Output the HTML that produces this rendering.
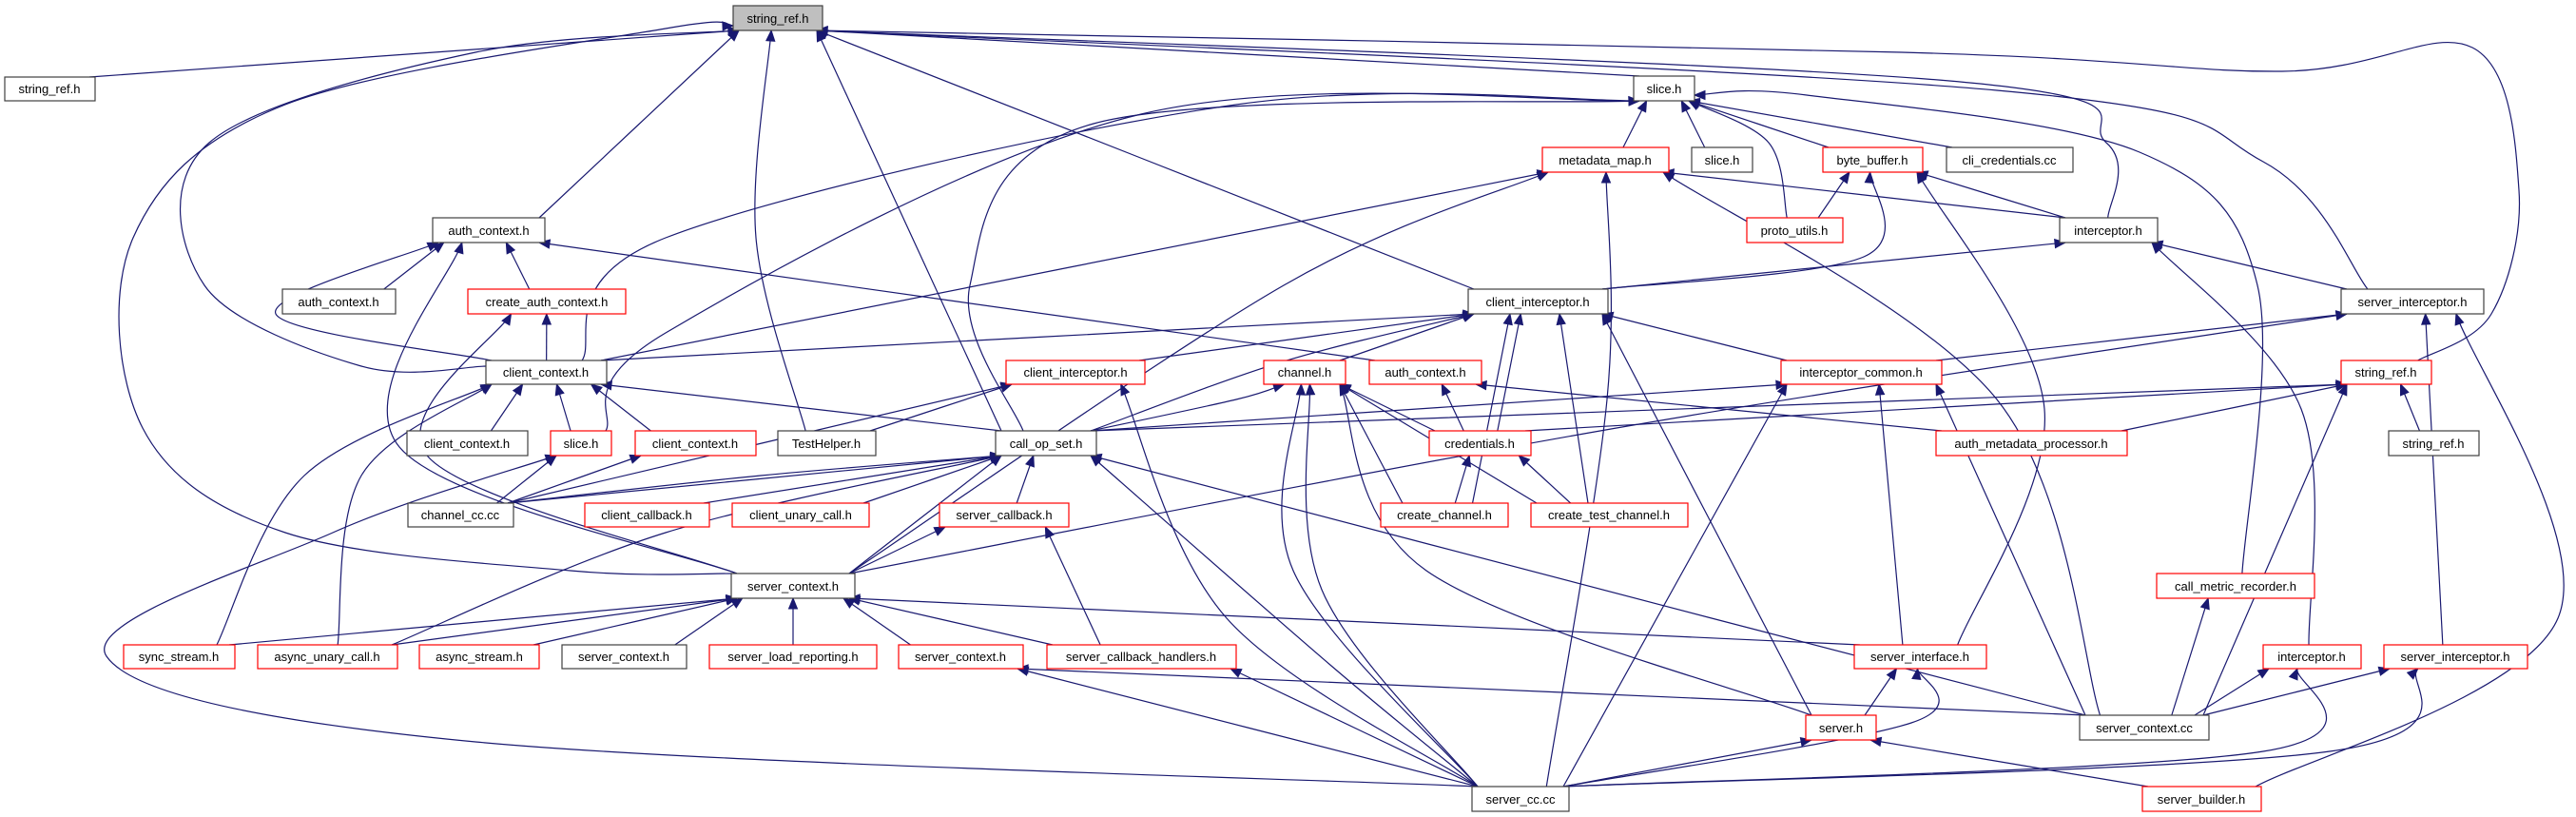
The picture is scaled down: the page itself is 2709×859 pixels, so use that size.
<!DOCTYPE html>
<html><head><meta charset="utf-8"><style>
html,body{margin:0;padding:0;background:#fff;}
svg{display:block;}
text{font-family:"Liberation Sans",sans-serif;font-size:13px;fill:#000;}
</style></head><body>
<svg id="g" width="2709" height="859" viewBox="0 0 2709 859" xmlns="http://www.w3.org/2000/svg">
<g id="edges" fill="none" stroke="#191970" stroke-width="1.2"></g>
<g id="arrows" fill="#191970" stroke="#191970" stroke-width="1"></g>
<g id="nodes">
<rect x="771" y="6" width="94" height="26" fill="#bfbfbf" stroke="#404040" stroke-width="1.2"/><text x="818" y="24" text-anchor="middle">string_ref.h</text>
<rect x="5" y="81" width="95" height="25" fill="#fff" stroke="#404040" stroke-width="1.2"/><text x="52" y="98" text-anchor="middle">string_ref.h</text>
<rect x="455" y="229" width="118" height="26" fill="#fff" stroke="#404040" stroke-width="1.2"/><text x="514" y="247" text-anchor="middle">auth_context.h</text>
<rect x="297" y="304" width="119" height="26" fill="#fff" stroke="#404040" stroke-width="1.2"/><text x="356" y="322" text-anchor="middle">auth_context.h</text>
<rect x="492" y="304" width="166" height="26" fill="#fff" stroke="#ff0000" stroke-width="1.2"/><text x="575" y="322" text-anchor="middle">create_auth_context.h</text>
<rect x="511" y="379" width="127" height="25" fill="#fff" stroke="#404040" stroke-width="1.2"/><text x="574" y="396" text-anchor="middle">client_context.h</text>
<rect x="1718" y="80" width="64" height="26" fill="#fff" stroke="#404040" stroke-width="1.2"/><text x="1750" y="98" text-anchor="middle">slice.h</text>
<rect x="1622" y="155" width="133" height="26" fill="#fff" stroke="#ff0000" stroke-width="1.2"/><text x="1688" y="173" text-anchor="middle">metadata_map.h</text>
<rect x="1779" y="155" width="64" height="26" fill="#fff" stroke="#404040" stroke-width="1.2"/><text x="1811" y="173" text-anchor="middle">slice.h</text>
<rect x="1917" y="155" width="105" height="26" fill="#fff" stroke="#ff0000" stroke-width="1.2"/><text x="1969" y="173" text-anchor="middle">byte_buffer.h</text>
<rect x="2047" y="155" width="133" height="26" fill="#fff" stroke="#404040" stroke-width="1.2"/><text x="2113" y="173" text-anchor="middle">cli_credentials.cc</text>
<rect x="1837" y="229" width="101" height="26" fill="#fff" stroke="#ff0000" stroke-width="1.2"/><text x="1887" y="247" text-anchor="middle">proto_utils.h</text>
<rect x="2166" y="229" width="103" height="26" fill="#fff" stroke="#404040" stroke-width="1.2"/><text x="2217" y="247" text-anchor="middle">interceptor.h</text>
<rect x="1544" y="304" width="147" height="26" fill="#fff" stroke="#404040" stroke-width="1.2"/><text x="1617" y="322" text-anchor="middle">client_interceptor.h</text>
<rect x="2462" y="304" width="150" height="26" fill="#fff" stroke="#404040" stroke-width="1.2"/><text x="2537" y="322" text-anchor="middle">server_interceptor.h</text>
<rect x="1058" y="379" width="146" height="25" fill="#fff" stroke="#ff0000" stroke-width="1.2"/><text x="1131" y="396" text-anchor="middle">client_interceptor.h</text>
<rect x="1329" y="379" width="86" height="25" fill="#fff" stroke="#ff0000" stroke-width="1.2"/><text x="1372" y="396" text-anchor="middle">channel.h</text>
<rect x="1440" y="379" width="118" height="25" fill="#fff" stroke="#ff0000" stroke-width="1.2"/><text x="1499" y="396" text-anchor="middle">auth_context.h</text>
<rect x="1873" y="379" width="169" height="25" fill="#fff" stroke="#ff0000" stroke-width="1.2"/><text x="1957" y="396" text-anchor="middle">interceptor_common.h</text>
<rect x="2462" y="379" width="95" height="25" fill="#fff" stroke="#ff0000" stroke-width="1.2"/><text x="2509" y="396" text-anchor="middle">string_ref.h</text>
<rect x="428" y="453" width="127" height="26" fill="#fff" stroke="#404040" stroke-width="1.2"/><text x="491" y="471" text-anchor="middle">client_context.h</text>
<rect x="579" y="453" width="64" height="26" fill="#fff" stroke="#ff0000" stroke-width="1.2"/><text x="611" y="471" text-anchor="middle">slice.h</text>
<rect x="668" y="453" width="127" height="26" fill="#fff" stroke="#ff0000" stroke-width="1.2"/><text x="731" y="471" text-anchor="middle">client_context.h</text>
<rect x="818" y="453" width="103" height="26" fill="#fff" stroke="#404040" stroke-width="1.2"/><text x="869" y="471" text-anchor="middle">TestHelper.h</text>
<rect x="1047" y="453" width="106" height="26" fill="#fff" stroke="#404040" stroke-width="1.2"/><text x="1100" y="471" text-anchor="middle">call_op_set.h</text>
<rect x="1503" y="453" width="107" height="26" fill="#fff" stroke="#ff0000" stroke-width="1.2"/><text x="1556" y="471" text-anchor="middle">credentials.h</text>
<rect x="2036" y="453" width="201" height="26" fill="#fff" stroke="#ff0000" stroke-width="1.2"/><text x="2136" y="471" text-anchor="middle">auth_metadata_processor.h</text>
<rect x="2512" y="453" width="95" height="26" fill="#fff" stroke="#404040" stroke-width="1.2"/><text x="2559" y="471" text-anchor="middle">string_ref.h</text>
<rect x="429" y="529" width="111" height="25" fill="#fff" stroke="#404040" stroke-width="1.2"/><text x="484" y="546" text-anchor="middle">channel_cc.cc</text>
<rect x="615" y="529" width="131" height="25" fill="#fff" stroke="#ff0000" stroke-width="1.2"/><text x="680" y="546" text-anchor="middle">client_callback.h</text>
<rect x="770" y="529" width="144" height="25" fill="#fff" stroke="#ff0000" stroke-width="1.2"/><text x="842" y="546" text-anchor="middle">client_unary_call.h</text>
<rect x="988" y="529" width="136" height="25" fill="#fff" stroke="#ff0000" stroke-width="1.2"/><text x="1056" y="546" text-anchor="middle">server_callback.h</text>
<rect x="1452" y="529" width="134" height="25" fill="#fff" stroke="#ff0000" stroke-width="1.2"/><text x="1519" y="546" text-anchor="middle">create_channel.h</text>
<rect x="1610" y="529" width="165" height="25" fill="#fff" stroke="#ff0000" stroke-width="1.2"/><text x="1692" y="546" text-anchor="middle">create_test_channel.h</text>
<rect x="769" y="603" width="130" height="26" fill="#fff" stroke="#404040" stroke-width="1.2"/><text x="834" y="621" text-anchor="middle">server_context.h</text>
<rect x="2268" y="603" width="166" height="26" fill="#fff" stroke="#ff0000" stroke-width="1.2"/><text x="2351" y="621" text-anchor="middle">call_metric_recorder.h</text>
<rect x="130" y="678" width="117" height="25" fill="#fff" stroke="#ff0000" stroke-width="1.2"/><text x="188" y="695" text-anchor="middle">sync_stream.h</text>
<rect x="271" y="678" width="147" height="25" fill="#fff" stroke="#ff0000" stroke-width="1.2"/><text x="344" y="695" text-anchor="middle">async_unary_call.h</text>
<rect x="441" y="678" width="126" height="25" fill="#fff" stroke="#ff0000" stroke-width="1.2"/><text x="504" y="695" text-anchor="middle">async_stream.h</text>
<rect x="591" y="678" width="131" height="25" fill="#fff" stroke="#404040" stroke-width="1.2"/><text x="656" y="695" text-anchor="middle">server_context.h</text>
<rect x="746" y="678" width="176" height="25" fill="#fff" stroke="#ff0000" stroke-width="1.2"/><text x="834" y="695" text-anchor="middle">server_load_reporting.h</text>
<rect x="945" y="678" width="131" height="25" fill="#fff" stroke="#ff0000" stroke-width="1.2"/><text x="1010" y="695" text-anchor="middle">server_context.h</text>
<rect x="1101" y="678" width="199" height="25" fill="#fff" stroke="#ff0000" stroke-width="1.2"/><text x="1200" y="695" text-anchor="middle">server_callback_handlers.h</text>
<rect x="1950" y="678" width="139" height="25" fill="#fff" stroke="#ff0000" stroke-width="1.2"/><text x="2019" y="695" text-anchor="middle">server_interface.h</text>
<rect x="2380" y="678" width="103" height="25" fill="#fff" stroke="#ff0000" stroke-width="1.2"/><text x="2431" y="695" text-anchor="middle">interceptor.h</text>
<rect x="2507" y="678" width="151" height="25" fill="#fff" stroke="#ff0000" stroke-width="1.2"/><text x="2582" y="695" text-anchor="middle">server_interceptor.h</text>
<rect x="1899" y="752" width="74" height="26" fill="#fff" stroke="#ff0000" stroke-width="1.2"/><text x="1936" y="770" text-anchor="middle">server.h</text>
<rect x="2187" y="752" width="136" height="26" fill="#fff" stroke="#404040" stroke-width="1.2"/><text x="2255" y="770" text-anchor="middle">server_context.cc</text>
<rect x="1548" y="827" width="102" height="26" fill="#fff" stroke="#404040" stroke-width="1.2"/><text x="1599" y="845" text-anchor="middle">server_cc.cc</text>
<rect x="2253" y="827" width="125" height="26" fill="#fff" stroke="#ff0000" stroke-width="1.2"/><text x="2315" y="845" text-anchor="middle">server_builder.h</text>
</g>
</svg>
<script>
(function(){
var N={T:[771,6,865,32],SL:[5,81,100,106],AC:[455,229,573,255],AC2:[297,304,416,330],CAC:[492,304,658,330],CC:[511,379,638,404],
S:[1718,80,1782,106],MM:[1622,155,1755,181],S2:[1779,155,1843,181],BB:[1917,155,2022,181],CLI:[2047,155,2180,181],PU:[1837,229,1938,255],
I:[2166,229,2269,255],CI:[1544,304,1691,330],SI:[2462,304,2612,330],CIr:[1058,379,1204,404],CH:[1329,379,1415,404],ACr:[1440,379,1558,404],
IC:[1873,379,2042,404],SRr:[2462,379,2557,404],CC2:[428,453,555,479],SLr:[579,453,643,479],CCr:[668,453,795,479],TH:[818,453,921,479],
COS:[1047,453,1153,479],CR:[1503,453,1610,479],AMP:[2036,453,2237,479],SR2:[2512,453,2607,479],CHcc:[429,529,540,554],CCB:[615,529,746,554],
CUC:[770,529,914,554],SCB:[988,529,1124,554],CCH:[1452,529,1586,554],CTC:[1610,529,1775,554],SC:[769,603,899,629],CMR:[2268,603,2434,629],
SS:[130,678,247,703],AUC:[271,678,418,703],AS:[441,678,567,703],SC2:[591,678,722,703],SLR:[746,678,922,703],SCr:[945,678,1076,703],
SCH:[1101,678,1300,703],SIF:[1950,678,2089,703],Ir:[2380,678,2483,703],SIr:[2507,678,2658,703],SV:[1899,752,1973,778],SCX:[2187,752,2323,778],
SCC:[1548,827,1650,853],SB:[2253,827,2378,853]};
var E=[
['SL','T'],['SC','T',[[600,600],[300,560],[150,450],[140,250],[300,110],[700,30]]],['CC','T',[[380,385],[215,300],[220,150],[500,55]]],
['AC','T'],['TH','T',[[795,250]]],['COS','T'],['CI','T'],['S','T'],['I','T',[[2215,150],[2050,85]]],['SI','T',[[2380,170],[2100,95]]],
['SRr','T',[[2620,330],[2649,200],[2600,50],[2400,75],[2000,55]]],
['MM','S'],['S2','S'],['BB','S'],['CLI','S'],['PU','S',[[1860,150]]],['CC','S',[[700,250],[1300,110]]],['SLr','S',[[700,350],[1200,120]]],
['COS','S',[[1020,300],[1150,130]]],['CMR','S',[[2374,300],[2250,160],[1900,100]]],
['CC','MM'],['SC','MM',[[1350,300]]],['SCC','MM',[[1690,420]]],['SCX','MM',[[2100,420]]],['I','MM'],
['PU','BB'],['I','BB'],['CI','BB',[[1960,270]]],['SIF','BB',[[2150,430]]],
['CI','I'],['SI','I'],['Ir','I',[[2420,430]]],
['CC','CI'],['CIr','CI'],['CH','CI'],['CR','CI'],['CCH','CI'],['CTC','CI'],['SV','CI'],['IC','CI'],['COS','CI',[[1350,380]]],
['IC','SI'],['SC','SI',[[1700,450]]],['SIr','SI'],['SB','SI',[[2690,650]]],
['AC2','AC'],['CAC','AC'],['CC','AC',[[290,330]]],['SC','AC',[[420,470]]],['ACr','AC'],
['CC','CAC'],['SC','CAC',[[450,480]]],
['CC2','CC'],['SLr','CC'],['CCr','CC'],['COS','CC'],['SS','CC',[[320,500]]],['AUC','CC',[[380,500]]],
['TH','CIr'],['CHcc','CIr'],['SCC','CIr',[[1290,650]]],
['COS','CH',[[1300,420]]],['CR','CH'],['CCH','CH'],['CTC','CH'],['SCC','CH',[[1360,600]]],['SCC','CH',[[1390,620]]],['SV','CH',[[1500,600]]],
['CR','ACr'],['AMP','ACr'],
['COS','IC'],['SCC','IC'],['SIF','IC'],['SCX','IC'],
['COS','SRr'],['CR','SRr'],['SR2','SRr'],['SCX','SRr'],['AMP','SRr'],
['CCH','CR'],['CTC','CR'],
['CHcc','COS'],['CHcc','COS',[[800,500]]],['CCB','COS'],['CUC','COS'],['SCB','COS'],['SC','COS'],['SCC','COS',[[1400,700]]],['SCX','COS',[[1800,650]]],['AUC','COS',[[700,560]]],
['CHcc','SLr'],['SCC','SLr',[[500,780],[112,690],[350,560]]],['CHcc','CCr'],
['SC','SCB'],['SCH','SCB'],
['SS','SC'],['AUC','SC'],['AS','SC'],['SC2','SC'],['SLR','SC'],['SCr','SC'],['SCH','SC'],['SIF','SC'],
['SCC','SCr'],['SCX','SCr'],['SCC','SCH'],['SV','SIF'],['SCC','SIF',[[2010,760]]],['SCC','SV'],['SB','SV'],
['SCX','CMR'],['SCX','Ir'],['SCC','Ir',[[2380,790]]],['SCX','SIr'],['SCC','SIr',[[2450,790]]]
];
function cx(b){return (b[0]+b[2])/2}function cy(b){return (b[1]+b[3])/2}
function clamp(v,a,b){return Math.max(a,Math.min(b,v))}
function port(b,p,out){ // point on box b facing p
 if(p[1]<b[1]-2) return [clamp(cx(b)+(p[0]-cx(b))*0.3,b[0]+6,b[2]-6),b[1]];
 if(p[1]>b[3]+2) return [clamp(cx(b)+(p[0]-cx(b))*0.3,b[0]+6,b[2]-6),b[3]];
 if(p[0]<b[0]) return [b[0],clamp(p[1],b[1]+5,b[3]-5)];
 return [b[2],clamp(p[1],b[1]+5,b[3]-5)];
}
var eg=document.getElementById('edges'),ag=document.getElementById('arrows'),ns='http://www.w3.org/2000/svg';
E.forEach(function(e){
 var s=N[e[0]],t=N[e[1]],via=e[2]||[];
 var first=via.length?via[0]:[cx(t),cy(t)],last=via.length?via[via.length-1]:[cx(s),cy(s)];
 var p0=port(s,first),p1=port(t,last);
 var pts=[p0].concat(via).concat([p1]);
 var d='M'+p0[0]+','+p0[1],lc;
 if(pts.length==2){
  var vert=Math.abs(p1[1]-p0[1])>Math.abs(p1[0]-p0[0])*0.2;
  var c1,c2;
  if(vert){var dy=(p1[1]-p0[1])*0.35;c1=[p0[0],p0[1]+dy];c2=[p1[0]+(p0[0]-p1[0])*0.05,p1[1]-dy];}
  else{var dx=(p1[0]-p0[0])*0.35;c1=[p0[0]+dx,p0[1]];c2=[p1[0]-dx,p1[1]];}
  c1=[p0[0]+(p1[0]-p0[0])*0.33,p0[1]+(p1[1]-p0[1])*0.33];c2=[p0[0]+(p1[0]-p0[0])*0.67,p0[1]+(p1[1]-p0[1])*0.67];
  d+=' C'+c1+' '+c2+' '+p1;lc=p0;
 } else {
  for(var i=0;i<pts.length-1;i++){
   var a=pts[i>0?i-1:0],b=pts[i],c=pts[i+1],dd=pts[i+2<pts.length?i+2:pts.length-1];
   var k1=[b[0]+(c[0]-a[0])/6,b[1]+(c[1]-a[1])/6],k2=[c[0]-(dd[0]-b[0])/6,c[1]-(dd[1]-b[1])/6];
   d+=' C'+k1+' '+k2+' '+c;lc=k2;
  }
 }
 var dx=p1[0]-lc[0],dy=p1[1]-lc[1],L=Math.sqrt(dx*dx+dy*dy)||1;dx/=L;dy/=L;
 var bx=p1[0]-dx*11,by=p1[1]-dy*11;
 var pa=document.createElementNS(ns,'path');pa.setAttribute('d',d);eg.appendChild(pa);
 var po=document.createElementNS(ns,'polygon');
 po.setAttribute('points',p1[0]+','+p1[1]+' '+(bx-dy*4.5)+','+(by+dx*4.5)+' '+(bx+dy*4.5)+','+(by-dx*4.5));
 ag.appendChild(po);
});
})();
</script>
</body></html>
